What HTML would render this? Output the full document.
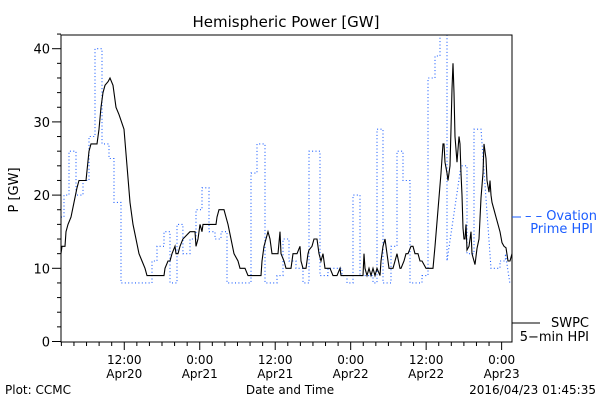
<!DOCTYPE html>
<html><head><meta charset="utf-8"><style>
body{margin:0;background:#fff}
svg{display:block;font-family:"DejaVu Sans","Liberation Sans",sans-serif}
</style></head><body>
<svg id="chart" width="600" height="400" viewBox="0 0 600 400">
<defs><clipPath id="clip"><rect x="61" y="35" width="451" height="307"/></clipPath></defs>
<rect width="600" height="400" fill="#fff"/>
<text x="286" y="27" font-size="15" text-anchor="middle">Hemispheric Power [GW]</text>
<text transform="translate(18,190) rotate(-90)" font-size="13" text-anchor="middle">P [GW]</text>
<text x="290" y="394" font-size="12" text-anchor="middle">Date and Time</text>
<text x="5" y="394" font-size="12">Plot: CCMC</text>
<text x="596" y="394" font-size="12" text-anchor="end">2016/04/23 01:45:35</text>
<g id="axes"></g>
<g id="series" clip-path="url(#clip)"></g>
<rect x="61" y="35" width="451" height="307" fill="none" stroke="#000" stroke-width="1"/>
<g>
<line x1="512" y1="217" x2="521" y2="217" stroke="#1a5cff" stroke-width="1"/>
<text x="597" y="220" font-size="13" fill="#1a5cff" text-anchor="end">– – Ovation</text>
<text x="593" y="233" font-size="13" fill="#1a5cff" text-anchor="end">Prime HPI</text>
</g>
<g>
<line x1="512" y1="323" x2="540" y2="323" stroke="#000" stroke-width="1"/>
<text x="589" y="327" font-size="13" text-anchor="end">SWPC</text>
<text x="589" y="341" font-size="13" text-anchor="end">5−min HPI</text>
</g>
</svg>
<script>
// hours since 2016-04-20 00:00
const yTicks = [0,10,20,30,40];
const xTickHours = [12,24,36,48,60,72];
const xTickTimes = ["12:00","0:00","12:00","0:00","12:00","0:00"];
const xTickDates = ["Apr20","Apr21","Apr21","Apr22","Apr22","Apr23"];
const swpcT = [1.94,2.10,2.58,2.73,3.05,3.53,4.01,4.48,4.80,5.91,6.39,6.71,7.66,7.98,8.30,8.62,8.94,9.43,9.73,10.21,10.68,11.16,11.96,12.44,12.91,13.39,13.87,14.34,14.82,15.30,15.61,18.32,18.48,18.95,19.27,19.59,20.06,20.22,20.54,20.86,21.33,22.45,23.24,23.40,23.72,24.04,24.36,24.52,26.58,26.74,27.06,27.85,28.17,28.49,28.97,29.45,30.08,30.40,31.20,31.67,33.74,33.90,34.22,34.53,34.85,35.17,35.49,36.44,36.76,36.92,37.40,37.72,37.87,38.51,38.67,38.83,39.46,39.94,40.10,40.42,40.89,41.05,41.21,41.37,41.85,42.17,42.64,42.96,43.28,43.60,43.92,44.71,45.19,45.82,46.30,46.46,49.96,50.12,50.27,50.59,50.91,51.23,51.55,51.86,52.18,52.66,52.82,53.14,53.45,53.77,54.09,54.73,55.05,55.36,55.84,56.00,56.48,56.80,57.12,57.59,57.91,58.23,58.71,59.02,59.34,59.98,61.09,61.41,61.89,62.36,62.68,62.84,63.00,63.32,63.47,63.79,63.95,64.11,64.27,64.43,64.59,64.90,65.22,65.38,65.54,65.70,65.86,66.02,66.17,66.33,66.49,66.82,67.13,67.29,67.61,67.77,68.08,68.40,68.72,69.04,69.20,69.51,69.67,69.99,70.15,70.31,70.47,70.79,71.10,71.42,71.74,72.06,72.38,72.69,73.01,73.33,73.65];
const swpcV = [12,13,13,15,16,17,19,21,22,22,26,27,27,29,32,34,35,35.5,36,35,32,31,29,24,19,16,14,12,11,10,9,9,10,11,11,12,13,12,12,13,14,15,15,13,14,16,15,16,16,17,18,18,17,16,14,12,11,10,10,9,9,11,13,14,15,14,12,12,15,12,11,10,10,10,11,12,12,13,11,10,10,11,12,12.5,13,14,14,12,11,12,10,10,9,9,10,9,9,12,10,9,10,9,10,9,10,9,11,13,14,12,10,10,11,12,10,10,11,12,12,13,13,12,12,11,11,10,10,13,18,23,27,27,24.5,23,22,24,29,34.5,38,34,28,24.5,28,27,23,20,15.5,14,14,16,12.5,13,15,12,11,10.5,12.7,14,19.6,23,27,25,22,20.4,22,20,19,18,17,16,15,13.5,13,12.8,11,11,12];
const ovationT = [1.94,2.42,3.21,4.32,5.44,6.39,7.35,8.46,9.57,10.37,11.48,16.41,17.20,18.32,19.27,20.38,21.33,22.45,23.40,24.36,25.47,26.43,27.38,28.33,32.15,33.10,34.38,36.28,37.24,38.19,39.30,40.42,41.37,43.12,44.39,46.62,47.41,48.37,49.48,51.55,52.18,53.14,54.41,55.36,56.32,57.43,59.34,60.29,61.41,62.20,63.32,65.54,66.49,67.61,68.72,70.31,71.74,72.60,73.30,73.65];
const ovationV = [17,20,26,20,22,28,40,27,25,19,8,11,13,15,8,16,12,14,18,21,15,14,15,8,23,27,8,9,14,11,10,8,26,9,10,9,8,20,9,8,29,8,13,26,22,8,9,36,39,43,11,24,12,29,29,10,11,12,8,8];
const ovationRampStarts = [63.32,68.72,72.60];

const NS="http://www.w3.org/2000/svg";
const X0=61,X1=512,Y0=342,Y1=35;
const tMin=1.94,tMax=73.65;
const xs=t=>X0+(t-tMin)/(tMax-tMin)*(X1-X0);
const ys=v=>341.5-v*7.32;
function mk(tag,attrs,parent){const e=document.createElementNS(NS,tag);for(const k in attrs)e.setAttribute(k,attrs[k]);parent.appendChild(e);return e;}
const axes=document.getElementById('axes'), ser=document.getElementById('series');
for(let v=0;v<=42;v+=2){
  const major=v%10===0;
  const t=mk('line',{x1:X0-(major?9:4),x2:X0,y1:ys(v),y2:ys(v),stroke:'#000'},axes);
  
  
}
yTicks.forEach(v=>{
  const t=mk('text',{x:50,y:ys(v)+5,'font-size':13,'text-anchor':'end'},axes);
  t.textContent=v;
  
  
});
for(let h=2;h<=tMax;h+=2){
  const major=h%12===0;
  const t=mk('line',{x1:xs(h),x2:xs(h),y1:Y0,y2:Y0+(major?8:4),stroke:'#000'},axes);
  
  
}
xTickHours.forEach((h,i)=>{
  const a=mk('text',{x:xs(h),y:364,'font-size':12,'text-anchor':'middle'},axes);
  a.textContent=xTickTimes[i];
  
  
  const b=mk('text',{x:xs(h),y:378,'font-size':12,'text-anchor':'middle'},axes);
  b.textContent=xTickDates[i];
  
  
});
let d='M'+xs(ovationT[0]).toFixed(1)+','+ys(ovationV[0]).toFixed(1);
for(let i=1;i<ovationT.length;i++){
  const x=xs(ovationT[i]).toFixed(1);
  if(ovationRampStarts.includes(ovationT[i-1])) d+=' L'+x+','+ys(ovationV[i]).toFixed(1);
  else d+=' L'+x+','+ys(ovationV[i-1]).toFixed(1)+' L'+x+','+ys(ovationV[i]).toFixed(1);
}
const op=mk('path',{d:d,fill:'none',stroke:'#1a5cff','stroke-width':1.1,'stroke-dasharray':'1,2.4'},ser);


const pts=swpcT.map((t,i)=>xs(t).toFixed(1)+','+ys(swpcV[i]).toFixed(1)).join(' ');
const sp=mk('polyline',{points:pts,fill:'none',stroke:'#000','stroke-width':1.1},ser);


</script>
</body></html>
